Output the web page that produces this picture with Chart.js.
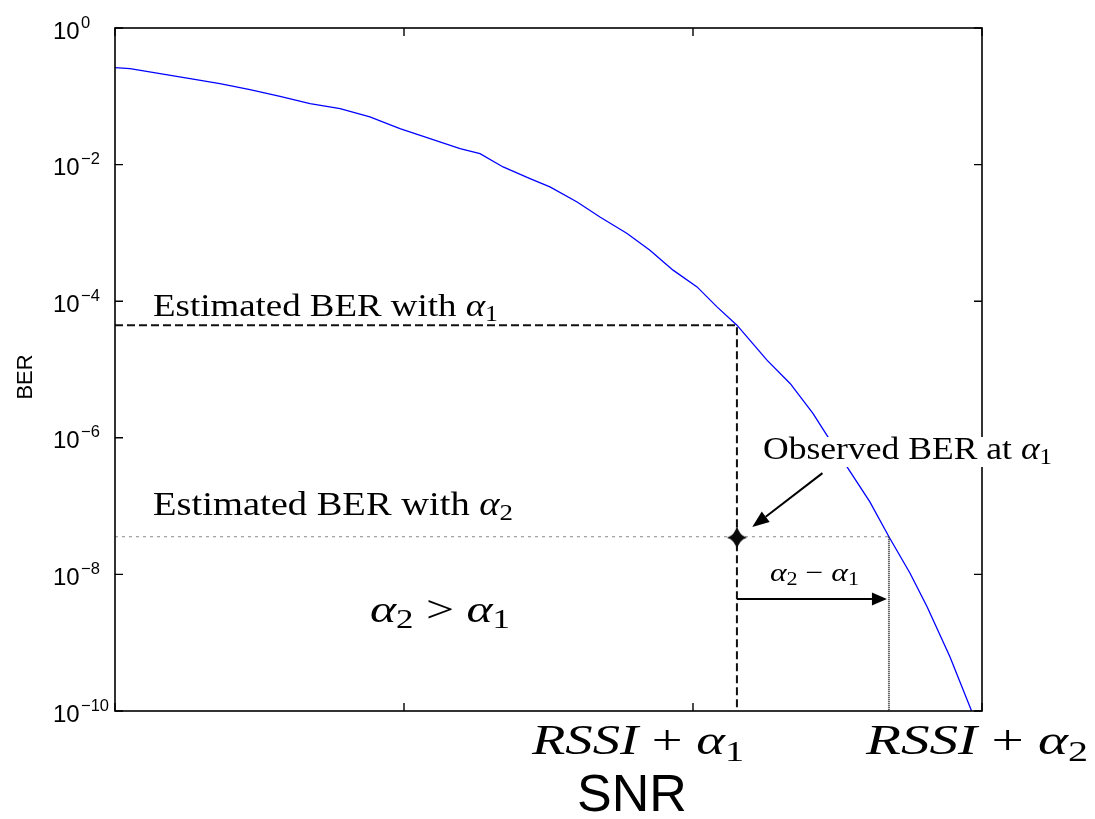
<!DOCTYPE html>
<html>
<head>
<meta charset="utf-8">
<script src="https://cdn.jsdelivr.net/npm/chart.js@4.4.1/dist/chart.umd.min.js"></script>
<style>
  html, body { margin: 0; padding: 0; background: #ffffff; }
  #wrap { width: 1095px; height: 819px; position: relative; }
</style>
</head>
<body>
<div id="wrap"><canvas id="c" width="1095" height="819"></canvas></div>
<script>
// ---------------- data ----------------
const snrValues = [0, 0.52, 1.56, 2.60, 3.63, 4.67, 5.71, 6.75, 7.79, 8.82, 9.86, 10.90, 11.94, 12.63, 13.43, 14.36, 15.05, 15.99, 16.78, 17.72, 18.51, 19.31, 20.14, 20.83, 21.52, 22.56, 23.36, 24.15, 25.33, 26.12, 26.78, 27.51, 28.10, 28.89, 29.64];
const berValues = [0.263, 0.255, 0.215, 0.182, 0.153, 0.1255, 0.100, 0.0783, 0.0661, 0.0499, 0.0337, 0.0241, 0.0172, 0.0145, 0.00924, 0.00625, 0.00471, 0.00284, 0.00171, 0.000980, 0.000558, 0.000285, 0.000162, 8.26e-5, 4.46e-5, 1.37e-5, 6.25e-6, 2.28e-6, 3.76e-7, 1.15e-7, 3.56e-8, 1.04e-8, 3.36e-9, 6.24e-10, 1e-10];

const yTickValues = [1, 1e-2, 1e-4, 1e-6, 1e-8, 1e-10];
const xTickValues = [0, 10, 20, 30];
const snrRange = [0, 30];
const berRange = [1e-10, 1];

const alpha1Snr = 21.52;
const alpha2Snr = 26.78;
const estimatedBer1 = 4.46e-5;
const estimatedBer2 = 3.56e-8;
const observedBer = 3.45e-8;

const arrowObserved = [[24.48, 3.04e-7], [22.05, 4.93e-8]];
const arrowShift = [[21.52, 4.36e-9], [26.71, 4.36e-9]];

// ---------------- styling / layout ----------------
const SERIF = "'Liberation Serif', 'Times New Roman', serif";
const SANS = "'Liberation Sans', Arial, sans-serif";

function up(t, s) { return { t, s, it: false, dy: 0 }; }
function it(t, s) { return { t, s, it: true, dy: 0 }; }
function sub(t, s) { return { t, s: s * 0.7, it: false, dy: s * 0.16 }; }

const textBlocks = [
  { segs: [up('Estimated BER with ', 32), it('α', 32), sub('1', 32)], x: 153, y: 316, w: 345 },
  { segs: [up('Estimated BER with ', 33), it('α', 33), sub('2', 33)], x: 153, y: 515, w: 360 },
  { segs: [up('Observed BER at ', 32), it('α', 32), sub('1', 32)], x: 763, y: 459, w: 289, bg: [758, 437, 300, 30] },
  { segs: [it('α', 26), sub('2', 26), up(' − ', 26), it('α', 26), sub('1', 26)], x: 770, y: 581, w: 89 },
  { segs: [it('α', 38), sub('2', 38), up(' > ', 38), it('α', 38), sub('1', 38)], x: 370, y: 622, w: 140 },
  { segs: [it('RSSI', 43), up(' + ', 43), it('α', 43), sub('1', 43)], x: 532, y: 754, w: 212 },
  { segs: [it('RSSI', 43), up(' + ', 43), it('α', 43), sub('2', 43)], x: 866, y: 754, w: 222 }
];

function segFont(seg) {
  return (seg.it ? 'italic ' : '') + seg.s.toFixed(1) + 'px ' + SERIF;
}

function drawRich(ctx, block) {
  let total = 0;
  block.segs.forEach(seg => { ctx.font = segFont(seg); seg.mw = ctx.measureText(seg.t).width; total += seg.mw; });
  const sx = block.w ? block.w / total : 1;
  ctx.save();
  if (block.bg) { ctx.fillStyle = '#ffffff'; ctx.fillRect(block.bg[0], block.bg[1], block.bg[2], block.bg[3]); }
  ctx.translate(block.x, block.y);
  ctx.scale(sx, 1);
  ctx.fillStyle = '#000000';
  ctx.textBaseline = 'alphabetic';
  ctx.textAlign = 'left';
  let cx = 0;
  block.segs.forEach(seg => { ctx.font = segFont(seg); ctx.fillText(seg.t, cx, seg.dy); cx += seg.mw; });
  ctx.restore();
}

function arrow(ctx, x1, y1, x2, y2, len, half) {
  const ang = Math.atan2(y2 - y1, x2 - x1);
  const bx = x2 - len * Math.cos(ang), by = y2 - len * Math.sin(ang);
  ctx.beginPath();
  ctx.moveTo(x1, y1);
  ctx.lineTo(bx, by);
  ctx.stroke();
  ctx.beginPath();
  ctx.moveTo(x2, y2);
  ctx.lineTo(bx + half * Math.sin(ang), by - half * Math.cos(ang));
  ctx.lineTo(bx - half * Math.sin(ang), by + half * Math.cos(ang));
  ctx.closePath();
  ctx.fill();
}

// four-point star marker
const star = document.createElement('canvas');
star.width = 24; star.height = 28;
(function () {
  const g = star.getContext('2d');
  g.translate(12, 14);
  g.fillStyle = '#0a0a0a';
  g.beginPath();
  g.moveTo(0, -12);
  g.quadraticCurveTo(2.2, -2.2, 10, 0);
  g.quadraticCurveTo(2.2, 2.2, 0, 12);
  g.quadraticCurveTo(-2.2, 2.2, -10, 0);
  g.quadraticCurveTo(-2.2, -2.2, 0, -12);
  g.closePath();
  g.fill();
})();

const decorPlugin = {
  id: 'decor',
  afterDatasetsDraw(chart) {
    const ctx = chart.ctx;
    const xs = chart.scales.x, ys = chart.scales.y;
    const a = chart.chartArea;
    ctx.save();

    // arrows
    ctx.strokeStyle = '#000000';
    ctx.fillStyle = '#000000';
    ctx.lineWidth = 2;
    arrow(ctx, xs.getPixelForValue(arrowObserved[0][0]), ys.getPixelForValue(arrowObserved[0][1]),
      xs.getPixelForValue(arrowObserved[1][0]), ys.getPixelForValue(arrowObserved[1][1]), 17, 6.5);
    arrow(ctx, xs.getPixelForValue(arrowShift[0][0]), ys.getPixelForValue(arrowShift[0][1]),
      xs.getPixelForValue(arrowShift[1][0]), ys.getPixelForValue(arrowShift[1][1]), 15, 6.5);

    // frame
    ctx.lineWidth = 1.6;
    ctx.strokeStyle = '#000000';
    ctx.strokeRect(a.left, a.top, a.right - a.left, a.bottom - a.top);

    // inward ticks
    ctx.lineWidth = 1.4;
    ctx.beginPath();
    yTickValues.forEach(v => {
      const y = ys.getPixelForValue(v);
      ctx.moveTo(a.left, y); ctx.lineTo(a.left + 8, y);
      ctx.moveTo(a.right, y); ctx.lineTo(a.right - 8, y);
    });
    xTickValues.forEach(v => {
      const x = xs.getPixelForValue(v);
      ctx.moveTo(x, a.bottom); ctx.lineTo(x, a.bottom - 8);
      ctx.moveTo(x, a.top); ctx.lineTo(x, a.top + 8);
    });
    ctx.stroke();

    // y tick labels 10^n
    ctx.fillStyle = '#000000';
    ctx.textAlign = 'left';
    ctx.textBaseline = 'alphabetic';
    yTickValues.forEach(v => {
      const y = ys.getPixelForValue(v);
      const e = Math.round(Math.log10(v));
      ctx.font = '24px ' + SANS;
      ctx.fillText('10', 53, y + 10.5);
      ctx.font = '16.5px ' + SANS;
      ctx.fillText(e === 0 ? '0' : '\u2212' + Math.abs(e), 81, y - 0.5);
    });

    // axis titles
    ctx.font = '22px ' + SANS;
    ctx.save();
    ctx.translate(32, 377);
    ctx.rotate(-Math.PI / 2);
    ctx.textAlign = 'center';
    ctx.fillText('BER', 0, 0);
    ctx.restore();

    ctx.font = '52px ' + SANS;
    ctx.textAlign = 'center';
    ctx.fillText('SNR', 632, 811);

    // annotations
    textBlocks.forEach(b => drawRich(ctx, b));
    ctx.restore();
  }
};

const curvePoints = snrValues.map((s, i) => ({ x: s, y: berValues[i] }));

new Chart(document.getElementById('c'), {
  type: 'line',
  data: {
    datasets: [
      {
        label: 'Observed BER',
        data: [{ x: alpha1Snr, y: observedBer }],
        showLine: false,
        pointStyle: star,
        pointRadius: 12,
        borderWidth: 0
      },
      {
        label: 'Estimated BER α1',
        data: [{ x: snrRange[0], y: estimatedBer1 }, { x: alpha1Snr, y: estimatedBer1 }, { x: alpha1Snr, y: berRange[0] }],
        borderColor: '#111111',
        borderWidth: 2,
        borderDash: [8, 4],
        pointRadius: 0,
        fill: false
      },
      {
        label: 'Estimated BER α2',
        data: [{ x: snrRange[0], y: estimatedBer2 }, { x: alpha2Snr, y: estimatedBer2 }],
        borderColor: '#8a8a8a',
        borderWidth: 1,
        borderDash: [3, 4],
        pointRadius: 0,
        fill: false
      },
      {
        label: 'RSSI + α2',
        data: [{ x: alpha2Snr, y: estimatedBer2 }, { x: alpha2Snr, y: berRange[0] }],
        borderColor: '#333333',
        borderWidth: 2,
        borderDash: [1, 1],
        pointRadius: 0,
        fill: false
      },
      {
        label: 'BER',
        data: curvePoints,
        borderColor: '#0000ff',
        borderWidth: 1.3,
        pointRadius: 0,
        tension: 0,
        fill: false
      }
    ]
  },
  options: {
    responsive: false,
    animation: false,
    devicePixelRatio: 1,
    layout: { padding: { left: 115, top: 28, right: 113, bottom: 108 } },
    plugins: { legend: { display: false }, tooltip: { enabled: false } },
    events: [],
    scales: {
      x: { type: 'linear', display: false, min: snrRange[0], max: snrRange[1] },
      y: { type: 'logarithmic', display: false, min: berRange[0], max: berRange[1] }
    }
  },
  plugins: [decorPlugin]
});
</script>
</body>
</html>
